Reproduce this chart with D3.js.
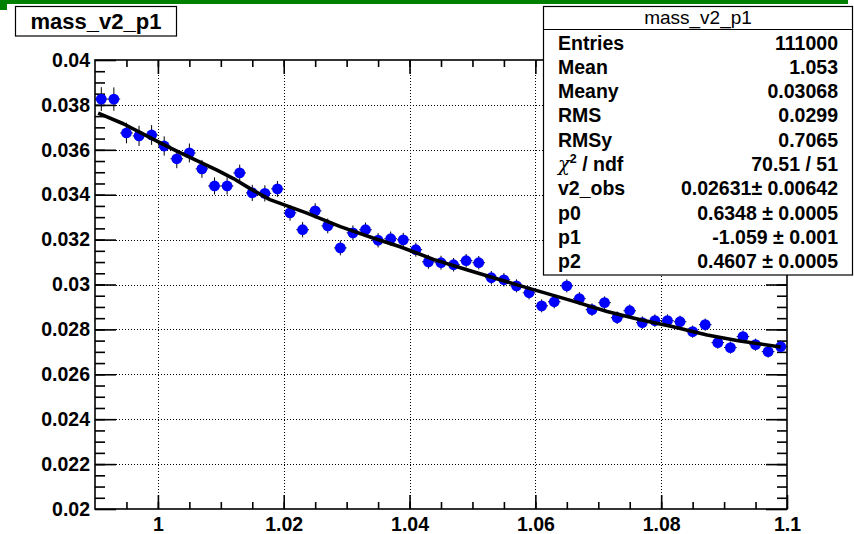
<!DOCTYPE html>
<html>
<head>
<meta charset="utf-8">
<script src="https://cdn.jsdelivr.net/npm/d3@7"></script>
<style>
  html, body { margin: 0; padding: 0; background: #ffffff; }
  svg { display: block; }
  text { font-family: "Liberation Sans", Arial, Helvetica, sans-serif; }
</style>
</head>
<body>
<svg id="chart" width="854" height="534"></svg>
<script>
// Profile of v2 vs invariant mass, 55 bins from 0.99 to 1.1
const binLow = 0.99;
const binWidth = 0.002;
const v2Values = [
  0.03826, 0.03826, 0.03675, 0.03662, 0.03666, 0.03617, 0.03560, 0.03586, 0.03515, 0.03439,
  0.03439, 0.03497, 0.03408, 0.03406, 0.03426, 0.03319, 0.03244, 0.03328, 0.03261, 0.03163,
  0.03230, 0.03244, 0.03197, 0.03204, 0.03199, 0.03155, 0.03101, 0.03097, 0.03088, 0.03106,
  0.03097, 0.03030, 0.03021, 0.02994, 0.02963, 0.02905, 0.02923, 0.02994, 0.02937, 0.02888,
  0.02919, 0.02852, 0.02883, 0.02830, 0.02839, 0.02839, 0.02834, 0.02790, 0.02821, 0.02741,
  0.02719, 0.02768, 0.02732, 0.02701, 0.02723
];
const v2Errors = [
  0.00053, 0.00052, 0.00046, 0.00045, 0.00044, 0.00043, 0.00042, 0.00042, 0.00040, 0.00038,
  0.00038, 0.00037, 0.00036, 0.00036, 0.00035, 0.00035, 0.00034, 0.00034, 0.00033, 0.00033,
  0.00033, 0.00032, 0.00032, 0.00032, 0.00031, 0.00031, 0.00031, 0.00031, 0.00030, 0.00030,
  0.00030, 0.00030, 0.00030, 0.00029, 0.00029, 0.00029, 0.00029, 0.00029, 0.00029, 0.00028,
  0.00028, 0.00028, 0.00028, 0.00028, 0.00028, 0.00028, 0.00027, 0.00027, 0.00027, 0.00027,
  0.00027, 0.00027, 0.00027, 0.00027, 0.00027
];

// Fitted v2(mass) curve
const fitX = [0.9905, 0.9945, 1.0, 1.003, 1.0067, 1.0094, 1.012, 1.0146, 1.0178, 1.0237,
              1.029, 1.0342, 1.0385, 1.0438, 1.0491, 1.0544, 1.0586, 1.0623, 1.066, 1.0714,
              1.0767, 1.0819, 1.0873, 1.0925, 1.099];
const fitY = [0.03763, 0.03716, 0.03636, 0.03594, 0.03545, 0.03509, 0.03472, 0.03428, 0.03378, 0.03318,
              0.03258, 0.03207, 0.03168, 0.03112, 0.03066, 0.03021, 0.02986, 0.02956, 0.02926, 0.02880,
              0.02843, 0.02812, 0.02775, 0.02748, 0.02722];

// Axis ticks
const xMajorTicks = [1.0, 1.02, 1.04, 1.06, 1.08, 1.1];
const xTickLabels = ["1", "1.02", "1.04", "1.06", "1.08", "1.1"];
const yMajorTicks = [0.02, 0.022, 0.024, 0.026, 0.028, 0.03, 0.032, 0.034, 0.036, 0.038, 0.04];
const yTickLabels = ["0.02", "0.022", "0.024", "0.026", "0.028", "0.03", "0.032", "0.034", "0.036", "0.038", "0.04"];

// Statistics box
const histName = "mass_v2_p1";
const statNames = ["Entries", "Mean", "Meany", "RMS", "RMSy", "CHI2", "v2_obs", "p0", "p1", "p2"];
const statValues = ["111000", "1.053", "0.03068", "0.0299", "0.7065", "70.51 / 51",
                    "0.02631\u00b1 0.00642", "0.6348 \u00b1 0.0005", "-1.059 \u00b1 0.001", "0.4607 \u00b1 0.0005"];

const svg = d3.select("#chart");
const frame = { left: 95, right: 787, top: 60, bottom: 509 };

const x = d3.scaleLinear().domain([0.99, 1.1]).range([frame.left, frame.right]);
const y = d3.scaleLinear().domain([0.02, 0.04]).range([frame.bottom, frame.top]);

// Canvas decoration strip
svg.append("rect").attr("x", 0).attr("y", 0).attr("width", 848).attr("height", 4).attr("fill", "#008000");
svg.append("rect").attr("x", 0).attr("y", 0).attr("width", 7).attr("height", 10).attr("fill", "#008000");

// Minor tick positions
const xMinor = d3.range(0, 23).map(i => +(0.99 + 0.005 * i).toFixed(3)).filter(v => v > 0.99 && v < 1.1);
const yMinor = d3.range(0, 41).map(i => +(0.02 + 0.0005 * i).toFixed(4)).filter(v => v > 0.02 && v < 0.04);

// Dotted grid
const grid = svg.append("g").attr("stroke", "#000").attr("stroke-width", 1).attr("stroke-dasharray", "1,2");
grid.selectAll("line.gx").data(xMajorTicks.filter(v => v < 1.1)).join("line")
  .attr("x1", d => Math.round(x(d)) + 0.5).attr("x2", d => Math.round(x(d)) + 0.5)
  .attr("y1", frame.top).attr("y2", frame.bottom);
grid.selectAll("line.gy").data(yMajorTicks.filter(v => v > 0.02 && v < 0.04)).join("line")
  .attr("y1", d => Math.round(y(d)) + 0.5).attr("y2", d => Math.round(y(d)) + 0.5)
  .attr("x1", frame.left).attr("x2", frame.right);

function styleAxis(g) {
  g.select(".domain").remove();
  g.selectAll(".tick line").attr("stroke", "#000").attr("stroke-width", 1.6);
  g.selectAll("text").attr("fill", "#000").attr("font-size", 19.5).attr("font-weight", "bold")
    .attr("font-family", "'Liberation Sans', Arial, Helvetica, sans-serif");
}

// Bottom axis with labels
svg.append("g").attr("transform", `translate(0,${frame.bottom})`)
  .call(d3.axisBottom(x).tickValues(xMajorTicks).tickSize(-14).tickPadding(8)
    .tickFormat((d, i) => xTickLabels[i]))
  .call(styleAxis);
svg.append("g").attr("transform", `translate(0,${frame.bottom})`)
  .call(d3.axisBottom(x).tickValues(xMinor).tickSize(-7).tickFormat(""))
  .call(styleAxis);
// Top axis
svg.append("g").attr("transform", `translate(0,${frame.top})`)
  .call(d3.axisTop(x).tickValues(xMajorTicks).tickSize(-14).tickFormat(""))
  .call(styleAxis);
svg.append("g").attr("transform", `translate(0,${frame.top})`)
  .call(d3.axisTop(x).tickValues(xMinor).tickSize(-7).tickFormat(""))
  .call(styleAxis);
// Left axis with labels
svg.append("g").attr("transform", `translate(${frame.left},0)`)
  .call(d3.axisLeft(y).tickValues(yMajorTicks).tickSize(-21).tickPadding(5)
    .tickFormat((d, i) => yTickLabels[i]))
  .call(styleAxis);
svg.append("g").attr("transform", `translate(${frame.left},0)`)
  .call(d3.axisLeft(y).tickValues(yMinor).tickSize(-10).tickFormat(""))
  .call(styleAxis);
// Right axis
svg.append("g").attr("transform", `translate(${frame.right},0)`)
  .call(d3.axisRight(y).tickValues(yMajorTicks).tickSize(-21).tickFormat(""))
  .call(styleAxis);
svg.append("g").attr("transform", `translate(${frame.right},0)`)
  .call(d3.axisRight(y).tickValues(yMinor).tickSize(-10).tickFormat(""))
  .call(styleAxis);

// Frame
svg.append("rect")
  .attr("x", frame.left).attr("y", frame.top)
  .attr("width", frame.right - frame.left).attr("height", frame.bottom - frame.top)
  .attr("fill", "none").attr("stroke", "#000").attr("stroke-width", 1.6);

// Data points with error bars
const points = v2Values.map((v, i) => ({
  c: binLow + binWidth * (i + 0.5),
  lo: binLow + binWidth * i,
  hi: binLow + binWidth * (i + 1),
  v: v,
  e: v2Errors[i]
}));

const pts = svg.append("g");
pts.selectAll("line.ex").data(points).join("line")
  .attr("x1", d => x(d.lo)).attr("x2", d => x(d.hi))
  .attr("y1", d => y(d.v)).attr("y2", d => y(d.v))
  .attr("stroke", "#000").attr("stroke-width", 1);
pts.selectAll("line.ey").data(points).join("line")
  .attr("x1", d => x(d.c)).attr("x2", d => x(d.c))
  .attr("y1", d => y(d.v - d.e)).attr("y2", d => y(d.v + d.e))
  .attr("stroke", "#000").attr("stroke-width", 1);
pts.selectAll("circle").data(points).join("circle")
  .attr("cx", d => x(d.c)).attr("cy", d => y(d.v)).attr("r", 5.4)
  .attr("fill", "#0000ff");

// Fit curve
const fitLine = d3.line().x(d => x(d[0])).y(d => y(d[1]));
svg.append("path")
  .datum(fitX.map((fx, i) => [fx, fitY[i]]))
  .attr("d", fitLine)
  .attr("fill", "none").attr("stroke", "#000").attr("stroke-width", 3.6)
  .attr("stroke-linejoin", "round");

// Title box
svg.append("rect").attr("x", 15.5).attr("y", 6.5).attr("width", 161).attr("height", 29.5)
  .attr("fill", "#fff").attr("stroke", "#000").attr("stroke-width", 1.2);
svg.append("text").attr("x", 96).attr("y", 28.5).attr("text-anchor", "middle")
  .attr("font-size", 22).attr("font-weight", "bold").text(histName);

// Statistics box
const stats = svg.append("g");
stats.append("rect").attr("x", 543.5).attr("y", 6.5).attr("width", 309).attr("height", 268.5)
  .attr("fill", "#fff").attr("stroke", "#000").attr("stroke-width", 1.2);
stats.append("line").attr("x1", 543.5).attr("x2", 852.5).attr("y1", 29.5).attr("y2", 29.5)
  .attr("stroke", "#000").attr("stroke-width", 1.2);
stats.append("text").attr("x", 698).attr("y", 24).attr("text-anchor", "middle")
  .attr("font-size", 19).text(histName);

const rowY = i => 49.5 + 24.33 * i;
statNames.forEach((name, i) => {
  const t = stats.append("text").attr("x", 558).attr("y", rowY(i))
    .attr("font-size", 19.5).attr("font-weight", "bold");
  if (name === "CHI2") {
    t.append("tspan").attr("font-weight", "normal").attr("font-family", "'DejaVu Serif', serif")
      .attr("font-style", "italic").text("\u03c7");
    t.append("tspan").attr("font-size", 12.5).attr("dy", -8).text("2");
    t.append("tspan").attr("dy", 8).text(" / ndf");
  } else {
    t.text(name);
  }
  stats.append("text").attr("x", 838).attr("y", rowY(i)).attr("text-anchor", "end")
    .attr("font-size", 19.5).attr("font-weight", "bold").text(statValues[i]);
});
</script>
</body>
</html>
